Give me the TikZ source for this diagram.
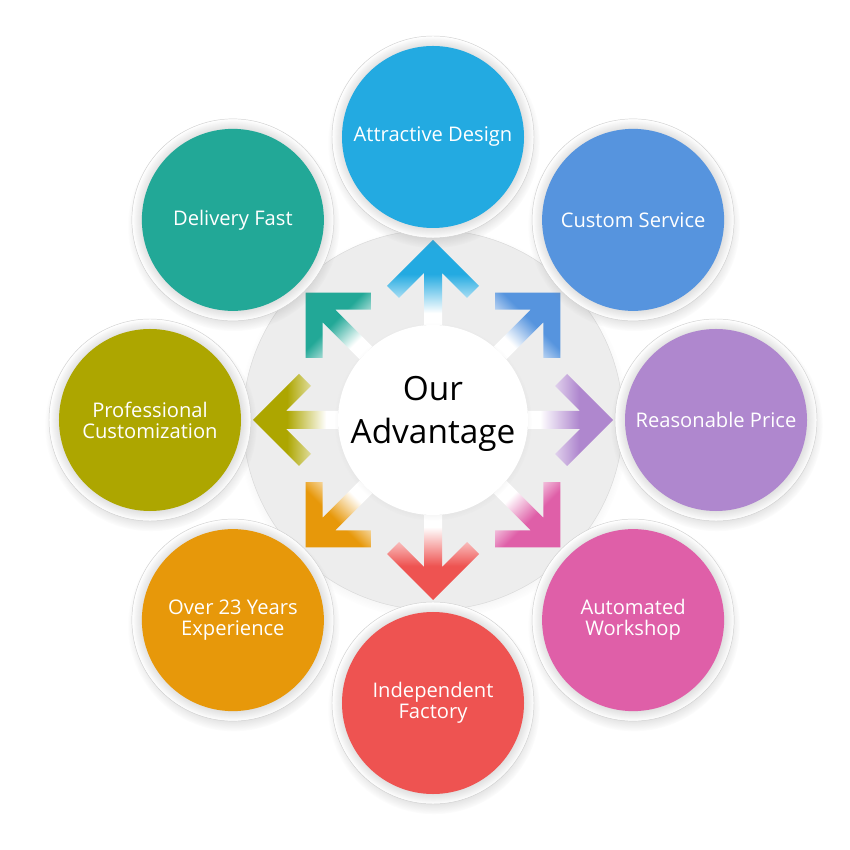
\documentclass[tikz,border=0pt]{standalone}
\usepackage{fontspec}
\setmainfont{Open Sans}
\usepackage{tikz}
\usetikzlibrary{calc}
\usetikzlibrary{shapes.geometric, shadows, fadings}

\definecolor{designcol}{HTML}{23AAE1}
\definecolor{servicecol}{HTML}{5694DE}
\definecolor{pricecol}{HTML}{AF87CE}
\definecolor{workshopcol}{HTML}{DF5FA8}
\definecolor{factorycol}{HTML}{EE5351}
\definecolor{experiencecol}{HTML}{E7980A}
\definecolor{customcol}{HTML}{ADA600}
\definecolor{deliverycol}{HTML}{22A897}

\colorlet{arrowcol}{black}
\pgfdeclareverticalshading[arrowcol]{arrowshade}{100bp}{color(0bp)=(white); color(32bp)=(white); color(55bp)=(arrowcol); color(100bp)=(arrowcol)}
\pgfdeclareradialshading{ringshade}{\pgfpoint{0bp}{0bp}}{color(0bp)=(black!12); color(22.5bp)=(black!12); color(24bp)=(black!5); color(25bp)=(white); color(50bp)=(white)}

\tikzstyle{disc} = [circle, minimum size=11.4cm, inner sep=0pt, fill=black!7, draw=black!15, circular drop shadow={shadow scale=1.03, shadow xshift=0cm, shadow yshift=-0.1cm, opacity=0.2}]
\tikzstyle{hub} = [circle, minimum size=5.7cm, inner sep=0pt, fill=white, circular drop shadow={shadow scale=1.04, shadow xshift=0cm, shadow yshift=-0.05cm, opacity=0.15}]
\tikzstyle{hubtext} = [text=black, align=center, font=\fontsize{28.5}{37}\selectfont]
\tikzset{bubble/.style={circle, minimum size=6.06cm, inner sep=0pt, shade, shading=ringshade, draw=black!18, text=white, align=center, font=\fontsize{17.2}{18}\selectfont, circular drop shadow={shadow scale=1.05, shadow xshift=0.02cm, shadow yshift=-0.15cm, opacity=0.3}, path picture={\fill[#1] (path picture bounding box.center) circle (2.73cm);}}}

% one arrow of the star: angle, colour
\newcommand{\advarrow}[2]{%
  \colorlet{arrowcol}{#2}%
  \pgfmathsetmacro{\shadeang}{#1-90}%
  \shade[shading=arrowshade, shading angle=\shadeang, shift={(ring.center)}, rotate=#1]
    (95,-9) -- (147,-9) -- (122,-34) -- (134,-46) -- (180,0) -- (134,46) -- (122,34) -- (147,9) -- (95,9) -- cycle;}

\begin{document}
\begin{tikzpicture}[x=0.03cm, y=0.03cm]
\fill[white] (-433,-430) rectangle (417,420);
\useasboundingbox (-433,-430) rectangle (417,420);

\node(ring)[disc] at (0,0) {};

\advarrow{90}{designcol}
\advarrow{45}{servicecol}
\advarrow{0}{pricecol}
\advarrow{-45}{workshopcol}
\advarrow{-90}{factorycol}
\advarrow{-135}{experiencecol}
\advarrow{180}{customcol}
\advarrow{135}{deliverycol}

\node(adv)[hub] at (ring) {};
\node(advtext)[hubtext] at ($(adv)+(0,6)$) {Our\\Advantage};

\node(design)[bubble=designcol] at ($(ring)+(90:283)$) {Attractive Design};
\node(service)[bubble=servicecol] at ($(ring)+(45:283)$) {Custom Service};
\node(price)[bubble=pricecol] at ($(ring)+(0:283)$) {Reasonable Price};
\node(workshop)[bubble=workshopcol] at ($(ring)+(-45:283)$) {Automated\\Workshop};
\node(factory)[bubble=factorycol] at ($(ring)+(-90:283)$) {Independent\\Factory};
\node(experience)[bubble=experiencecol] at ($(ring)+(-135:283)$) {Over 23 Years\\Experience};
\node(custom)[bubble=customcol] at ($(ring)+(180:283)$) {Professional\\Customization};
\node(delivery)[bubble=deliverycol] at ($(ring)+(135:283)$) {Delivery Fast};

\end{tikzpicture}
\end{document}
